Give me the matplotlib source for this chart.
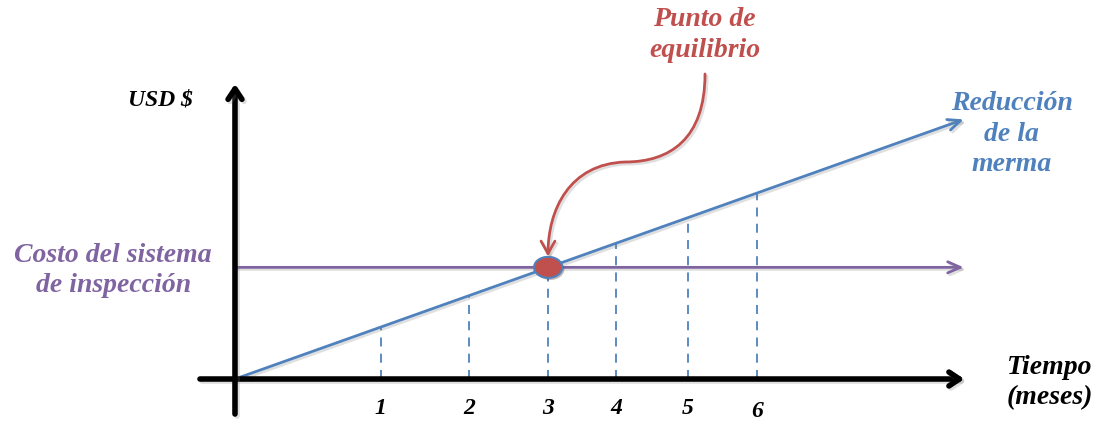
import matplotlib.pyplot as plt
import matplotlib.patheffects as pe
from matplotlib.patches import Ellipse, FancyArrowPatch
from matplotlib.path import Path

# months axis: tick positions (not evenly spaced) and labels
month_pos = [20.1, 32.3, 43.2, 52.6, 62.5, 72.0]
month_labels = ["1", "2", "3", "4", "5", "6"]
# height of the waste-reduction line above each month tick
month_heights = [7.16, 11.5, 15.4, 18.7, 22.2, 25.6]

# waste reduction (rising) and inspection system cost (flat)
reduction_x = [0, 100.5]
reduction_y = [0, 35.8]
cost_x = [0, 100.5]
cost_y = [15.4, 15.4]

breakeven = (43.2, 15.4)

BLUE = "#4F81BD"
PURPLE = "#8064A2"
RED = "#C0504D"
FONT = "Liberation Serif"

shadow = [pe.SimpleLineShadow(offset=(1.5, -1.5), alpha=0.25, shadow_color="gray"), pe.Normal()]

fig = plt.figure(figsize=(11.04, 4.27), dpi=100)
ax = fig.add_axes([0, 0, 1, 1])
ax.set_xlim(-32.41, 119.86)
ax.set_ylim(-6.48, 52.41)
ax.axis("off")


def arrow(ax, start, end, color, lw, hl, hw, z=3):
    ax.annotate("", xy=end, xytext=start,
                arrowprops=dict(arrowstyle=f"->,head_length={hl},head_width={hw}",
                                color=color, lw=lw, shrinkA=0, shrinkB=0,
                                path_effects=shadow),
                zorder=z)


# dashed guides from the time axis up to the reduction line
for x, h in zip(month_pos, month_heights):
    ax.plot([x, x], [0, h], color=BLUE, lw=1.3, ls=(0, (5, 4)), zorder=2)

# main axes
arrow(ax, (-4.83, 0), (100.6, 0), "black", 4.0, 0.75, 0.5, z=4)
arrow(ax, (0, -4.83), (0, 40.7), "black", 4.0, 0.75, 0.5, z=4)

# the two lines
arrow(ax, (reduction_x[0], reduction_y[0]), (reduction_x[1], reduction_y[1]), BLUE, 2.0, 0.9, 0.4)
arrow(ax, (cost_x[0], cost_y[0]), (cost_x[1], cost_y[1]), PURPLE, 2.0, 0.9, 0.4)

# break-even marker
dot = Ellipse(breakeven, 3.9, 2.9, facecolor=RED, edgecolor=BLUE, lw=1.5, zorder=6)
dot.set_path_effects([pe.withSimplePatchShadow(offset=(1.5, -1.5), alpha=0.3)])
ax.add_patch(dot)

# curved pointer to the break-even point
verts = [(64.83, 42.07), (64.83, 33.10), (60.0, 29.93), (53.79, 29.93),
         (46.21, 29.66), (43.17, 23.45), (43.17, 16.9)]
codes = [Path.MOVETO] + [Path.CURVE4] * 6
curve = FancyArrowPatch(path=Path(verts, codes),
                        arrowstyle="->,head_length=9,head_width=5",
                        color=RED, lw=2.0, zorder=7)
curve.set_path_effects(shadow)
ax.add_patch(curve)

txt = dict(family=FONT, weight="bold", style="italic", ha="center", va="center")

for x, lab in zip(month_pos, month_labels):
    ax.text(x, -3.9 if lab != "6" else -4.4, lab, fontsize=17, color="black", **txt)

ax.text(64.8, 47.6, "Punto de\nequilibrio", fontsize=20, color=RED,
        linespacing=1.28, **txt)
ax.text(107.1, 33.9, "Reducción\nde la\nmerma", fontsize=20, color=BLUE,
        linespacing=1.28, **txt)
ax.text(-16.8, 15.1, "Costo del sistema\nde inspección", fontsize=20, color=PURPLE,
        linespacing=1.28, **txt)
ax.text(-10.3, 38.6, "USD $", fontsize=17, color="black", **txt)
ax.text(112.4, -0.3, "Tiempo\n(meses)", fontsize=20, color="black",
        linespacing=1.28, **txt)

fig.savefig("out.png", dpi=100)
